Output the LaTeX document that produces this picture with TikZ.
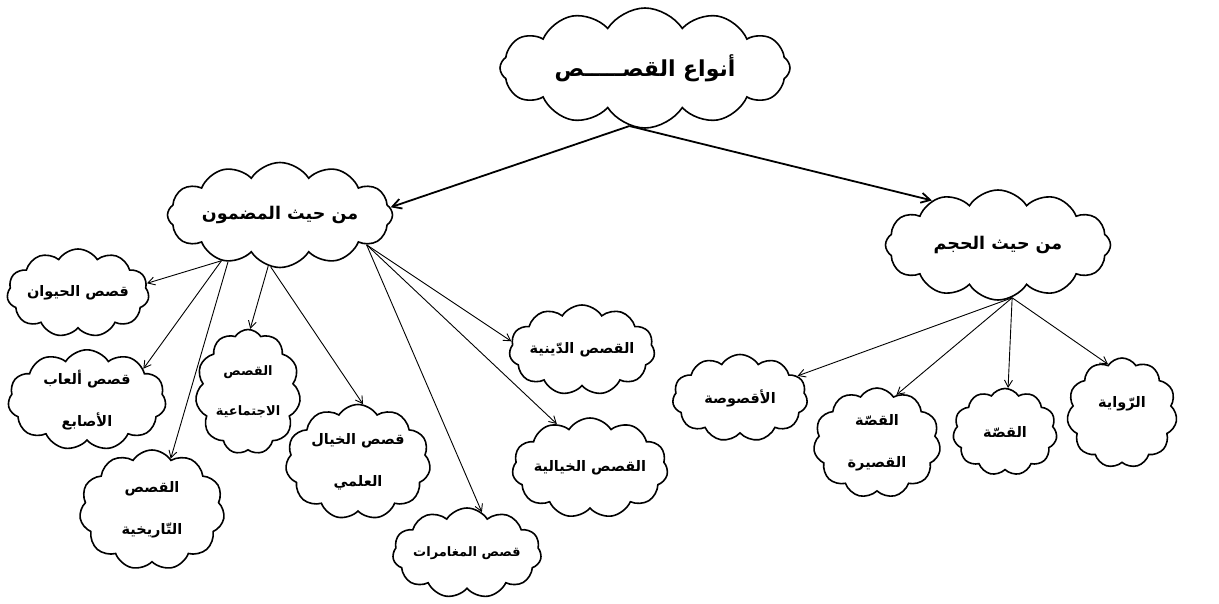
\documentclass[tikz,border=0pt]{standalone}
\usepackage{fontspec}
\usetikzlibrary{shapes.symbols,arrows.meta}
\TeXXeTstate=1
\newfontfamily\arabicfont[Script=Arabic]{DejaVu Sans}
\tikzset{
  cl/.style={cloud, draw, line width=1.6pt, cloud puffs=11, cloud puff arc=115,
    cloud ignores aspect, inner sep=0pt, align=center,
    font=\arabicfont\bfseries\fontsize{14.5}{42}\selectfont},
  small/.style={font=\arabicfont\bfseries\fontsize{13}{40}\selectfont},
  mid/.style={font=\arabicfont\bfseries\fontsize{17.5}{22}\selectfont},
  top/.style={font=\arabicfont\bfseries\fontsize{22}{26}\selectfont},
  bigarr/.style={-{Straight Barb[length=9pt,width=10pt]}, line width=1.8pt},
  arr/.style={-{Straight Barb[length=7pt,width=8pt]}, line width=0.9pt},
}
\begin{document}
\begin{tikzpicture}[x=1pt,y=-1pt]
\useasboundingbox (0,0) rectangle (1219,604);
\node[cl, top, cloud puffs=12, minimum width=290pt, minimum height=120pt] (root) at (645,68) {\beginR أنواع القصـــــص\endR};
\node[cl, mid, cloud puffs=12, minimum width=225pt, minimum height=105pt] (madmun) at (280,215) {\beginR من حيث المضمون\endR};
\node[cl, mid, cloud puffs=12, minimum width=225pt, minimum height=110pt] (hajm) at (998,245) {\beginR من حيث الحجم\endR};

\node[cl, minimum width=142pt, minimum height=88pt] (hayawan) at (78,293) {\beginR قصص الحيوان\endR};
\node[cl, minimum width=158pt, minimum height=92pt] (alaab) at (87,400) {\beginR قصص ألعاب\endR\\\beginR الأصابع\endR};
\node[cl, small, minimum width=105pt, minimum height=125pt] (ijtima) at (248,392) {\beginR القصص\endR\\\beginR الاجتماعية\endR};
\node[cl, minimum width=145pt, minimum height=120pt] (tarikh) at (152,510) {\beginR القصص\endR\\\beginR التّاريخية\endR};
\node[cl, minimum width=145pt, minimum height=115pt] (ilmi) at (358,462) {\beginR قصص الخيال\endR\\\beginR العلمي\endR};
\node[cl, small, minimum width=145pt, minimum height=90pt] (mughamarat) at (467,553) {\beginR قصص المغامرات\endR};
\node[cl, minimum width=145pt, minimum height=90pt] (dinia) at (582,350) {\beginR القصص الدّينية\endR};
\node[cl, minimum width=150pt, minimum height=100pt] (khayalia) at (590,468) {\beginR القصص الخيالية\endR};

\node[cl, minimum width=135pt, minimum height=87pt] (uqsusa) at (740,398) {\beginR الأقصوصة\endR};
\node[cl, minimum width=127pt, minimum height=110pt] (qasira) at (877,443) {\beginR القصّة\endR\\\beginR القصيرة\endR};
\node[cl, minimum width=104pt, minimum height=87pt] (qissa) at (1005,432) {\beginR القصّة\endR};
\node[cl, minimum width=110pt, minimum height=110pt] (riwaya) at (1122,413) {\raisebox{22pt}{\beginR الرّواية\endR}};

\draw[bigarr] (root.-105) -- (madmun.4);
\draw[bigarr] (root.-105) -- (hajm.146);

\draw[arr] (madmun.-142) -- (hayawan.8);
\draw[arr] (madmun.-142) -- (alaab.29);
\draw[arr] (madmun.-138) -- (tarikh.70);
\draw[arr] (madmun.-103) -- (ijtima.88);
\draw[arr] (madmun.-100) -- (ilmi.85);
\draw[arr] (madmun.-19) -- (mughamarat.70);
\draw[arr] (madmun.-19) -- (dinia.173);
\draw[arr] (madmun.-19) -- (khayalia.127);

\draw[arr] (hajm.-75) -- (uqsusa.21);
\draw[arr] (hajm.-75) -- (qasira.68);
\draw[arr] (hajm.-75) -- (qissa.86);
\draw[arr] (hajm.-75) -- (riwaya.106);
\end{tikzpicture}
\end{document}
